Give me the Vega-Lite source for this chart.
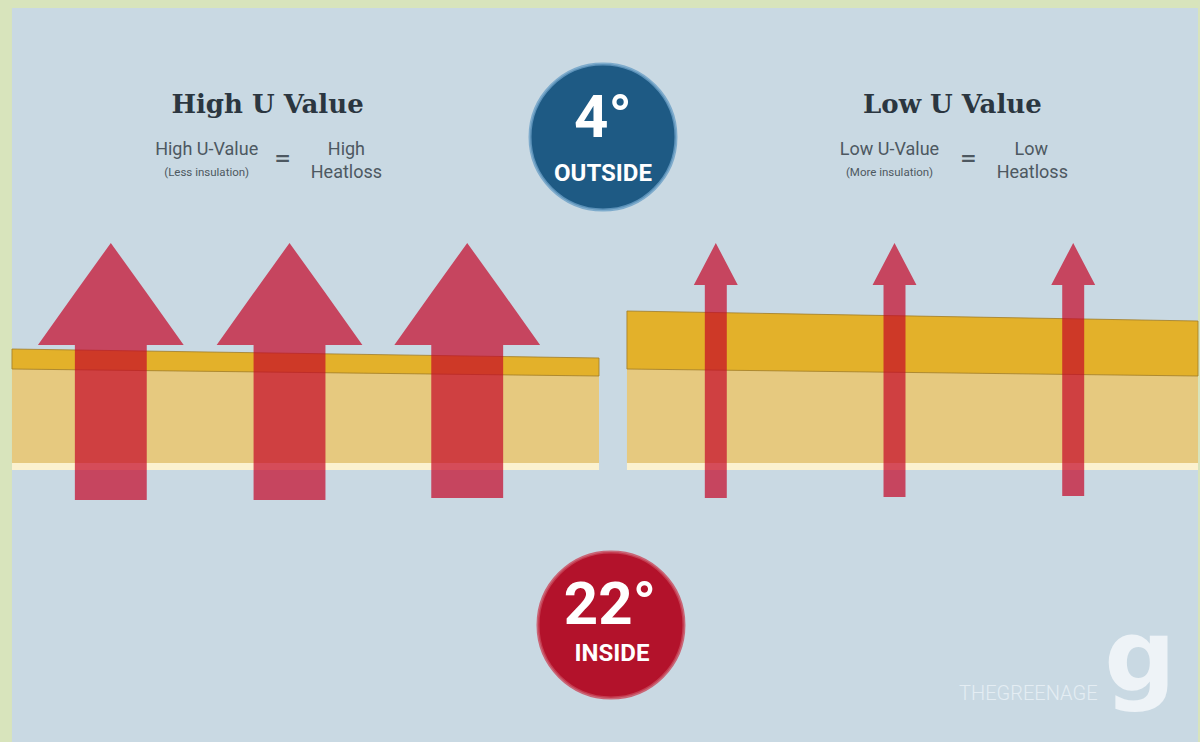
{
  "$schema": "https://vega.github.io/schema/vega-lite/v6.json",
  "width": 1200,
  "height": 742,
  "autosize": {"type": "fit", "contains": "padding"},
  "padding": 0,
  "background": "#d8e4bc",
  "config": {"view": {"stroke": null}},
  "encoding": {
    "x": {"field": "x", "type": "quantitative", "scale": {"domain": [0, 1200], "nice": false, "zero": false}, "axis": null},
    "y": {"field": "y", "type": "quantitative", "scale": {"domain": [0, 742], "nice": false, "zero": false, "reverse": true}, "axis": null}
  },
  "layer": [
    {
      "data": {"values": [{"x": 12, "x2": 1200, "y": 8, "y2": 742}]},
      "mark": {"type": "rect", "color": "#c9d9e3"},
      "encoding": {"x2": {"field": "x2"}, "y2": {"field": "y2"}}
    },
    {
      "data": {"values": [
        {"x": 12, "x2": 600, "y": 366, "y2": 463},
        {"x": 628, "x2": 1200, "y": 366, "y2": 463}
      ]},
      "mark": {"type": "rect", "color": "#e6c97f"},
      "encoding": {"x2": {"field": "x2"}, "y2": {"field": "y2"}}
    },
    {
      "data": {"values": [
        {"x": 12, "x2": 600, "y": 463, "y2": 470},
        {"x": 628, "x2": 1200, "y": 463, "y2": 470}
      ]},
      "mark": {"type": "rect", "color": "#fbf1cf"},
      "encoding": {"x2": {"field": "x2"}, "y2": {"field": "y2"}}
    },
    {
      "data": {"values": [
        {"band": "L", "x": 12, "y": 349, "y2": 369},
        {"band": "L", "x": 600, "y": 358, "y2": 376},
        {"band": "R", "x": 628, "y": 311, "y2": 369},
        {"band": "R", "x": 1200, "y": 321, "y2": 376}
      ]},
      "mark": {"type": "area", "color": "#e3b12a", "stroke": "#a07c28", "strokeWidth": 0.8},
      "encoding": {"y2": {"field": "y2"}, "detail": {"field": "band"}}
    },
    {
      "data": {"values": [
        {"arrow": "L1", "x": 38, "y": 345, "y2": 345},
        {"arrow": "L1", "x": 75, "y": 293, "y2": 345},
        {"arrow": "L1", "x": 75, "y": 293, "y2": 500},
        {"arrow": "L1", "x": 111, "y": 243, "y2": 500},
        {"arrow": "L1", "x": 147, "y": 293, "y2": 500},
        {"arrow": "L1", "x": 147, "y": 293, "y2": 345},
        {"arrow": "L1", "x": 184, "y": 345, "y2": 345},
        {"arrow": "L2", "x": 217, "y": 345, "y2": 345},
        {"arrow": "L2", "x": 254, "y": 293, "y2": 345},
        {"arrow": "L2", "x": 254, "y": 293, "y2": 500},
        {"arrow": "L2", "x": 290, "y": 243, "y2": 500},
        {"arrow": "L2", "x": 326, "y": 293, "y2": 500},
        {"arrow": "L2", "x": 326, "y": 293, "y2": 345},
        {"arrow": "L2", "x": 363, "y": 345, "y2": 345},
        {"arrow": "L3", "x": 395, "y": 345, "y2": 345},
        {"arrow": "L3", "x": 432, "y": 293, "y2": 345},
        {"arrow": "L3", "x": 432, "y": 293, "y2": 498},
        {"arrow": "L3", "x": 468, "y": 243, "y2": 498},
        {"arrow": "L3", "x": 504, "y": 293, "y2": 498},
        {"arrow": "L3", "x": 504, "y": 293, "y2": 345},
        {"arrow": "L3", "x": 541, "y": 345, "y2": 345},
        {"arrow": "R1", "x": 695, "y": 285, "y2": 285},
        {"arrow": "R1", "x": 706, "y": 264, "y2": 285},
        {"arrow": "R1", "x": 706, "y": 264, "y2": 498},
        {"arrow": "R1", "x": 717, "y": 243, "y2": 498},
        {"arrow": "R1", "x": 728, "y": 264, "y2": 498},
        {"arrow": "R1", "x": 728, "y": 264, "y2": 285},
        {"arrow": "R1", "x": 739, "y": 285, "y2": 285},
        {"arrow": "R2", "x": 874, "y": 285, "y2": 285},
        {"arrow": "R2", "x": 885, "y": 264, "y2": 285},
        {"arrow": "R2", "x": 885, "y": 264, "y2": 497},
        {"arrow": "R2", "x": 896, "y": 243, "y2": 497},
        {"arrow": "R2", "x": 907, "y": 264, "y2": 497},
        {"arrow": "R2", "x": 907, "y": 264, "y2": 285},
        {"arrow": "R2", "x": 918, "y": 285, "y2": 285},
        {"arrow": "R3", "x": 1053, "y": 285, "y2": 285},
        {"arrow": "R3", "x": 1064, "y": 264, "y2": 285},
        {"arrow": "R3", "x": 1064, "y": 264, "y2": 496},
        {"arrow": "R3", "x": 1075, "y": 243, "y2": 496},
        {"arrow": "R3", "x": 1086, "y": 264, "y2": 496},
        {"arrow": "R3", "x": 1086, "y": 264, "y2": 285},
        {"arrow": "R3", "x": 1097, "y": 285, "y2": 285}
      ]},
      "mark": {"type": "area", "color": "#c40626", "opacity": 0.7},
      "encoding": {"y2": {"field": "y2"}, "detail": {"field": "arrow"}}
    },
    {
      "data": {"values": [
        {"side": "outside", "x": 604, "y": 137},
        {"side": "inside", "x": 612, "y": 625}
      ]},
      "mark": {"type": "point", "shape": "circle", "filled": true, "size": 21300, "opacity": 1, "strokeWidth": 3, "strokeOpacity": 0.8},
      "encoding": {
        "fill": {"field": "side", "type": "nominal", "scale": {"domain": ["outside", "inside"], "range": ["#1e5a84", "#b3122b"]}, "legend": null},
        "stroke": {"field": "side", "type": "nominal", "scale": {"domain": ["outside", "inside"], "range": ["#6a9fc6", "#c9475a"]}, "legend": null}
      }
    },
    {
      "data": {"values": [
        {"t": "High U Value", "x": 268, "y": 113},
        {"t": "Low U Value", "x": 954, "y": 113}
      ]},
      "mark": {"type": "text", "font": "DejaVu Serif", "fontWeight": "bold", "fontSize": 26, "color": "#2b3640", "align": "center", "baseline": "alphabetic"},
      "encoding": {"text": {"field": "t"}}
    },
    {
      "data": {"values": [
        {"t": "High U-Value", "x": 207, "y": 155},
        {"t": "High", "x": 347, "y": 155},
        {"t": "Heatloss", "x": 347, "y": 178},
        {"t": "Low U-Value", "x": 891, "y": 155},
        {"t": "Low", "x": 1033, "y": 155},
        {"t": "Heatloss", "x": 1034, "y": 178}
      ]},
      "mark": {"type": "text", "font": "Roboto", "fontSize": 18, "color": "#4d5861", "align": "center", "baseline": "alphabetic"},
      "encoding": {"text": {"field": "t"}}
    },
    {
      "data": {"values": [
        {"t": "(Less insulation)", "x": 207, "y": 176},
        {"t": "(More insulation)", "x": 891, "y": 176}
      ]},
      "mark": {"type": "text", "font": "Roboto", "fontSize": 11.5, "color": "#4d5861", "align": "center", "baseline": "alphabetic"},
      "encoding": {"text": {"field": "t"}}
    },
    {
      "data": {"values": [
        {"t": "=", "x": 283, "y": 159},
        {"t": "=", "x": 970, "y": 159}
      ]},
      "mark": {"type": "text", "font": "DejaVu Sans", "fontWeight": "bold", "fontSize": 20, "color": "#4d5861", "align": "center", "baseline": "middle"},
      "encoding": {"text": {"field": "t"}}
    },
    {
      "data": {"values": [
        {"t": "4°", "x": 604, "y": 137},
        {"t": "22°", "x": 611, "y": 624}
      ]},
      "mark": {"type": "text", "font": "Roboto", "fontWeight": "bold", "fontSize": 60, "color": "#ffffff", "align": "center", "baseline": "alphabetic"},
      "encoding": {"text": {"field": "t"}}
    },
    {
      "data": {"values": [
        {"t": "OUTSIDE", "x": 604, "y": 181},
        {"t": "INSIDE", "x": 613, "y": 661}
      ]},
      "mark": {"type": "text", "font": "Roboto", "fontWeight": "bold", "fontSize": 24, "color": "#ffffff", "align": "center", "baseline": "alphabetic"},
      "encoding": {"text": {"field": "t"}}
    },
    {
      "data": {"values": [
        {"t": "THEGREENAGE", "x": 1030, "y": 700}
      ]},
      "mark": {"type": "text", "font": "Roboto", "fontWeight": 300, "fontSize": 20, "color": "#e4edf3", "align": "center", "baseline": "alphabetic"},
      "encoding": {"text": {"field": "t"}}
    },
    {
      "data": {"values": [
        {"t": "g", "x": 1142, "y": 690}
      ]},
      "mark": {"type": "text", "font": "DejaVu Sans", "fontWeight": "bold", "fontSize": 100, "color": "#eef3f7", "align": "center", "baseline": "alphabetic"},
      "encoding": {"text": {"field": "t"}}
    }
  ]
}
